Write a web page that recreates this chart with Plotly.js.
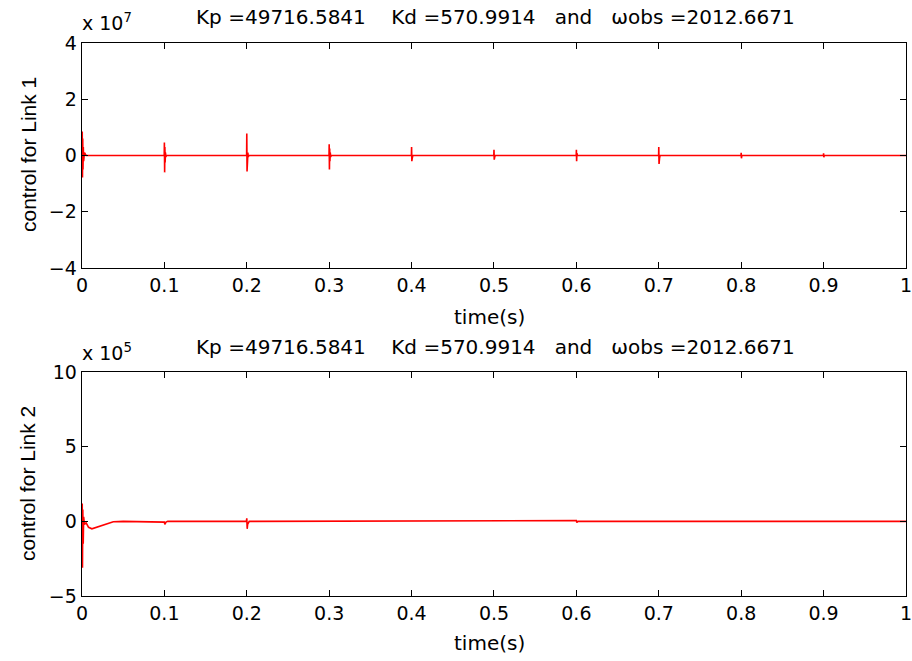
<!DOCTYPE html>
<html>
<head>
<meta charset="utf-8">
<script src="https://cdn.plot.ly/plotly-3.0.1.min.js"></script>
<style>html,body{margin:0;padding:0;background:#fff;}#plot{width:912px;height:661px;}</style>
</head>
<body>
<div id="plot"></div>
<script>
// Link 1 control (units of 1e7)
var t1 = [0, 0.0003, 0.0006, 0.0009, 0.0012, 0.0016, 0.002, 0.003, 0.005,
  0.0998, 0.1, 0.1003, 0.1006, 0.1009, 0.1013, 0.1018, 0.1025,
  0.1998, 0.2, 0.2003, 0.2006, 0.2009, 0.2013, 0.2018, 0.2025,
  0.2998, 0.3, 0.3003, 0.3006, 0.3009, 0.3013, 0.3018, 0.3025,
  0.3998, 0.4, 0.4003, 0.4006, 0.4009, 0.4015,
  0.4998, 0.5, 0.5003, 0.5006, 0.5009, 0.5015,
  0.5998, 0.6, 0.6003, 0.6006, 0.6012,
  0.6998, 0.7, 0.7003, 0.7006, 0.7009, 0.7015,
  0.7998, 0.8, 0.8003, 0.8008,
  0.8998, 0.9, 0.9003, 0.9008, 1.0];
var u1 = [0, 0.85, -0.78, 0.6, -0.5, 0.3, -0.2, 0.1, 0,
  0, 0.46, -0.6, 0.3, -0.25, 0.1, -0.05, 0,
  0, 0.78, -0.57, 0.3, -0.2, 0.1, -0.05, 0,
  0, 0.4, -0.5, 0.25, -0.2, 0.1, -0.05, 0,
  0, 0.3, -0.2, 0.12, -0.08, 0,
  0, 0.2, -0.15, 0.1, -0.05, 0,
  0, 0.2, -0.2, 0.08, 0,
  0, 0.3, -0.3, 0.15, -0.1, 0,
  0, 0.1, -0.1, 0,
  0, 0.08, -0.06, 0, 0];
// Link 2 control (units of 1e5)
var t2 = [0, 0.0003, 0.0006, 0.001, 0.0015, 0.002, 0.003, 0.005, 0.008, 0.012, 0.02, 0.03, 0.038, 0.05,
  0.0995, 0.1, 0.1005, 0.102, 0.104,
  0.1995, 0.2, 0.2005, 0.201, 0.203,
  0.5995, 0.6, 0.6005, 0.602, 1.0];
var u2 = [0, 1.2, -3.1, 0.8, -1.5, 0.3, -0.2, -0.1, -0.4, -0.5, -0.35, -0.15, -0.03, 0,
  0, -0.05, -0.2, -0.05, 0,
  0, 0.2, -0.5, -0.2, 0,
  0, 0.05, -0.08, 0, 0];

var xTicks = [0, 0.1, 0.2, 0.3, 0.4, 0.5, 0.6, 0.7, 0.8, 0.9, 1];
var y1Ticks = [-4, -2, 0, 2, 4];
var y2Ticks = [-5, 0, 5, 10];
var titleText = 'Kp =49716.5841\u00a0\u00a0\u00a0\u00a0Kd =570.9914\u00a0\u00a0\u00a0and\u00a0\u00a0\u00a0\u03c9obs =2012.6671';
var xLabel = 'time(s)';
var yLabels = ['control for Link 1', 'control for Link 2'];
var expLabels = ['x 10<sup>7</sup>', 'x 10<sup>5</sup>'];

var F = {family: 'DejaVu Sans, sans-serif', size: 19, color: '#000'};
var FT = {family: 'DejaVu Sans, sans-serif', size: 20, color: '#000'};
var FX = {family: 'DejaVu Sans, sans-serif', size: 20, color: '#000'};
var FY = {family: 'Liberation Sans, Arial, sans-serif', size: 21, color: '#000'};

function xax(anchor) {
  return {
    domain: [0.0899, 0.9934], anchor: anchor, range: [0, 1],
    tickvals: xTicks, ticks: 'inside', ticklen: 6, tickcolor: '#000', tickwidth: 1,
    showline: true, linecolor: '#000', linewidth: 1.3, mirror: 'ticks',
    showgrid: false, zeroline: false, tickfont: F, ticklabeloverflow: 'allow'
  };
}
function yax(anchor, domain, range, ticks) {
  return {
    domain: domain, anchor: anchor, range: range,
    tickvals: ticks, ticks: 'inside', ticklen: 6, tickcolor: '#000', tickwidth: 1,
    showline: true, linecolor: '#000', linewidth: 1.3, mirror: 'ticks',
    showgrid: false, zeroline: false, tickfont: F, ticklabeloverflow: 'allow'
  };
}
function px(x) { return x / 912; }
function py(y) { return 1 - y / 661; }

var traces = [
  {x: t1, y: u1, type: 'scatter', mode: 'lines', line: {color: '#ff0000', width: 1.6}, xaxis: 'x', yaxis: 'y', hoverinfo: 'skip'},
  {x: t2, y: u2, type: 'scatter', mode: 'lines', line: {color: '#ff0000', width: 1.6}, xaxis: 'x2', yaxis: 'y2', hoverinfo: 'skip'}
];

function ann(text, x, y, font, xanchor, angle) {
  return {text: text, xref: 'paper', yref: 'paper', x: px(x), y: py(y), xanchor: xanchor || 'center', yanchor: 'middle',
          showarrow: false, font: font, textangle: angle || 0};
}

var layout = {
  width: 912, height: 661,
  margin: {l: 0, r: 0, t: 0, b: 0},
  paper_bgcolor: '#fff', plot_bgcolor: '#fff',
  showlegend: false,
  xaxis: xax('y'),
  yaxis: yax('x', [0.5946, 0.9349], [-4, 4], y1Ticks),
  xaxis2: xax('y2'),
  yaxis2: yax('x2', [0.0983, 0.4372], [-5, 10], y2Ticks),
  annotations: [
    ann(titleText, 495, 17, FT),
    ann(titleText, 495, 347, FT),
    ann(expLabels[0], 80, 22, F, 'left'),
    ann(expLabels[1], 80, 352, F, 'left'),
    ann(xLabel, 490, 317, FX),
    ann(xLabel, 490, 643, FX),
    ann(yLabels[0], 29, 155, FY, 'center', -90),
    ann(yLabels[1], 27, 484, FY, 'center', -90)
  ]
};

Plotly.newPlot('plot', traces, layout, {displayModeBar: false, staticPlot: true});
</script>
</body>
</html>
